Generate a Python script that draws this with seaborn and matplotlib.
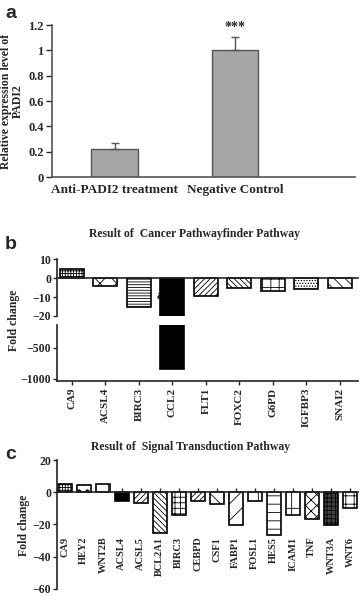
import seaborn as sns
import matplotlib.pyplot as plt

# panel a data
groups_a = ['Anti-PADI2 treatment', 'Negative Control']
expr_a = [0.22, 1.0]
err_a = [0.05, 0.105]

# panel b data
genes_b = ['CA9', 'ACSL4', 'BIRC3', 'CCL2', 'FLT1', 'FOXC2', 'G6PD', 'IGFBP3', 'SNAI2']
fold_b = [4.7, -4.2, -15.3, -840, -9.5, -5.3, -6.8, -6.0, -5.0]

# panel c data
genes_c = ['CA9', 'HEY2', 'WNT2B', 'ACSL4', 'ACSL5', 'BCL2A1', 'BIRC3', 'CEBPD',
           'CSF1', 'FABP1', 'FOSL1', 'HES5', 'ICAM1', 'TNF', 'WNT3A', 'WNT6']
fold_c = [5.2, 4.7, 5.2, -5.2, -6.6, -25.2, -14.2, -5.2,
          -7.2, -20.4, -5.2, -26.6, -14.2, -16.9, -20.6, -9.7]

sns.set_style('white')
plt.rcParams['font.family'] = ['Liberation Serif', 'DejaVu Serif']
plt.rcParams['font.weight'] = 'bold'
plt.rcParams['hatch.linewidth'] = 0.6
plt.rcParams['axes.linewidth'] = 1.2

fig = plt.figure(figsize=(3.6, 5.96), dpi=100)

# ---- panel a ----
ax_a = fig.add_axes([0.144, 0.703, 0.842, 0.255])
sns.barplot(x=groups_a, y=expr_a, ax=ax_a, color='#a6a6a6', edgecolor='#555555',
            linewidth=1.0, width=0.39, saturation=1)
ax_a.errorbar(range(len(expr_a)), expr_a, yerr=[[0] * len(err_a), err_a], fmt='none',
              ecolor='#555555', elinewidth=1.0, capsize=3, capthick=1.0)
ax_a.text(1, 1.13, '***', ha='center', va='bottom', fontsize=10, fontweight='bold')
ax_a.set_ylim(0, 1.2)
ax_a.set_xlim(-0.525, 2.0)
ax_a.set_yticks([0, 0.2, 0.4, 0.6, 0.8, 1.0, 1.2])
ax_a.set_yticklabels(['0', '0.2', '0.4', '0.6', '0.8', '1', '1.2'])
ax_a.tick_params(axis='y', labelsize=9, length=4, width=1, direction='out', left=True, pad=2)
ax_a.tick_params(axis='x', labelsize=9.5, length=0, pad=5)
ax_a.set_ylabel('Relative expression level of\nPADI2', fontsize=8.5, fontweight='bold',
                labelpad=3, linespacing=0.95)
for s in ['bottom', 'left']:
    ax_a.spines[s].set_color('#555555')
sns.despine(ax=ax_a)

# ---- panel b (broken axis) ----
hatch_b = ['++++++', 'xx', '------', '', '//////', '\\\\\\\\\\\\', '++', '......', '\\\\\\']
face_b = ['white', 'white', 'white', 'black', 'white', 'white', 'white', 'white', 'white']

ax_b1 = fig.add_axes([0.158, 0.470, 0.836, 0.095])
ax_b2 = fig.add_axes([0.158, 0.361, 0.836, 0.094])
for ax in (ax_b1, ax_b2):
    sns.barplot(x=genes_b, y=fold_b, ax=ax, color='white', edgecolor='black',
                linewidth=1.2, width=0.72, saturation=1)
    for p, h, fc in zip(ax.patches, hatch_b, face_b):
        p.set_hatch(h)
        p.set_facecolor(fc)
    ax.set_xlim(-0.45, 8.54)
    ax.tick_params(axis='y', labelsize=8.5, length=3, width=1, left=True, pad=1)

ax_b1.set_ylim(-20, 10)
ax_b1.set_yticks([10, 0, -10, -20])
ax_b1.spines['bottom'].set_position(('data', 0))
ax_b1.tick_params(axis='x', bottom=False, labelbottom=False)
ax_b1.text(2.62, -9.5, 'a', ha='center', va='center', fontsize=9, zorder=0)
sns.despine(ax=ax_b1)

ax_b2.set_ylim(-1032, -129)
ax_b2.set_yticks([-500, -1000])
ax_b2.tick_params(axis='x', bottom=True, length=3, width=1, labelsize=8, rotation=90, pad=2)
sns.despine(ax=ax_b2)

fig.text(0.54, 0.607, 'Result of  Cancer Pathwayfinder Pathway', ha='center', va='center',
         fontsize=8.5, fontweight='bold')
fig.text(0.04, 0.463, 'Fold change', rotation=90, ha='center', va='center',
         fontsize=8.5, fontweight='bold')

# ---- panel c ----
hatch_c = ['++++++', 'oo', '+', '', '//////', '\\\\\\\\\\\\', '+++', '//////',
           '\\\\', '//', '|', '--', '+', 'xxx', '++++', '++']
face_c = ['white', 'white', 'white', 'black', 'white', 'white', 'white', 'white',
          'white', 'white', 'white', 'white', 'white', 'white', '#444444', 'white']

ax_c = fig.add_axes([0.158, 0.012, 0.836, 0.216])
sns.barplot(x=genes_c, y=fold_c, ax=ax_c, color='white', edgecolor='black',
            linewidth=1.2, width=0.74, saturation=1)
for p, h, fc in zip(ax_c.patches, hatch_c, face_c):
    p.set_hatch(h)
    p.set_facecolor(fc)
ax_c.set_xlim(-0.42, 15.42)
ax_c.set_ylim(-60, 20)
ax_c.set_yticks([20, 0, -20, -40, -60])
ax_c.spines['bottom'].set_position(('data', 0))
ax_c.tick_params(axis='y', labelsize=8.5, length=3, width=1, left=True, pad=1)
ax_c.tick_params(axis='x', bottom=True, direction='in', length=3, width=1,
                 labelsize=7.5, rotation=90, pad=32)
sns.despine(ax=ax_c)

fig.text(0.53, 0.25, 'Result of  Signal Transduction Pathway', ha='center', va='center',
         fontsize=8.5, fontweight='bold')
fig.text(0.067, 0.119, 'Fold change', rotation=90, ha='center', va='center',
         fontsize=8.5, fontweight='bold')

# panel letters
for letter, y in [('a', 0.978), ('b', 0.589), ('c', 0.238)]:
    fig.text(0.03, y, letter, ha='center', va='center', fontsize=14,
             fontweight='bold', family='Liberation Sans')

fig.savefig('out.png', dpi=100)
